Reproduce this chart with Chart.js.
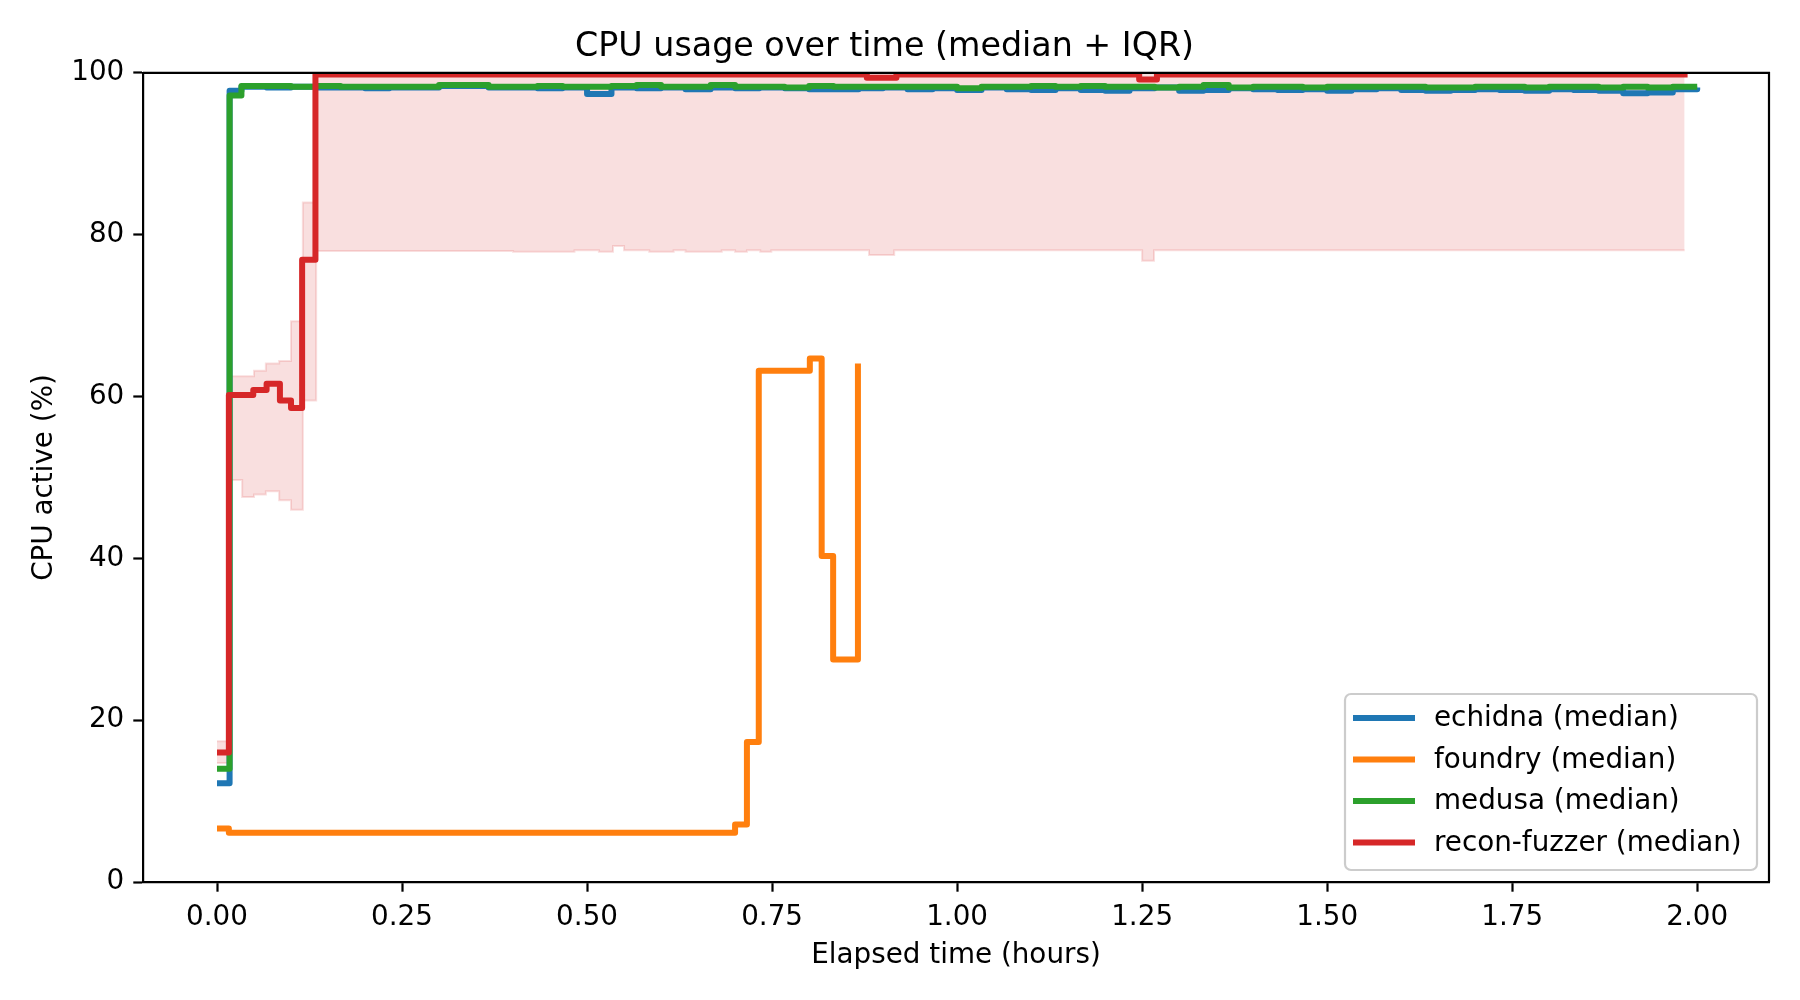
<!DOCTYPE html>
<html>
<head>
<meta charset="utf-8">
<title>CPU usage over time</title>
<script src="https://cdn.jsdelivr.net/npm/chart.js@4/dist/chart.umd.min.js"></script>
<style>
  body { margin: 0; background: #fff; }
  #wrap { width: 1800px; height: 1000px; }
</style>
</head>
<body>
<div id="wrap"><canvas id="cpuChart" width="1800" height="1000"></canvas></div>
<script>
// time grid (hours) shared by echidna and medusa medians
const gridTime = [0, 0.017, 0.033, 0.067, 0.1, 0.133, 0.167, 0.2, 0.233, 0.267, 0.3, 0.333, 0.367, 0.4, 0.433, 0.467,
  0.5, 0.533, 0.567, 0.6, 0.633, 0.667, 0.7, 0.733, 0.767, 0.8, 0.833, 0.867, 0.9, 0.933, 0.967,
  1.0, 1.033, 1.067, 1.1, 1.133, 1.167, 1.2, 1.233, 1.267, 1.3, 1.333, 1.367, 1.4, 1.433, 1.467,
  1.5, 1.533, 1.567, 1.6, 1.633, 1.667, 1.7, 1.733, 1.767, 1.8, 1.833, 1.867, 1.9, 1.933, 1.967, 2.0];

const echidnaMedian = [12.2, 97.8, 98.3, 98.2, 98.3, 98.2, 98.2, 98.1, 98.2, 98.2, 98.4, 98.4, 98.2, 98.2, 98.1, 98.2,
  97.4, 98.2, 98.1, 98.2, 98.0, 98.2, 98.1, 98.2, 98.1, 98.0, 98.0, 98.1, 98.2, 98.0, 98.1,
  97.9, 98.2, 98.0, 97.9, 98.1, 97.9, 97.8, 98.1, 98.2, 97.8, 97.9, 98.1, 98.0, 97.9, 98.0,
  97.8, 98.0, 98.1, 97.9, 97.8, 97.9, 98.0, 97.9, 97.8, 98.0, 97.9, 97.8, 97.5, 97.6, 98.0, 98.2];

const medusaMedian = [14.0, 97.2, 98.4, 98.4, 98.3, 98.4, 98.3, 98.3, 98.3, 98.3, 98.5, 98.5, 98.3, 98.3, 98.4, 98.3,
  98.3, 98.4, 98.5, 98.3, 98.3, 98.5, 98.3, 98.3, 98.2, 98.4, 98.3, 98.3, 98.3, 98.3, 98.3,
  98.1, 98.3, 98.3, 98.4, 98.3, 98.4, 98.3, 98.3, 98.2, 98.3, 98.5, 98.2, 98.3, 98.3, 98.2,
  98.3, 98.3, 98.3, 98.3, 98.2, 98.2, 98.3, 98.3, 98.2, 98.3, 98.3, 98.2, 98.3, 98.2, 98.3, 98.3];

const foundryTime = [0, 0.016, 0.70, 0.716, 0.732, 0.801, 0.817, 0.8325, 0.866];
const foundryMedian = [6.6, 6.1, 7.1, 17.3, 63.2, 64.7, 40.3, 27.5, 64.1];

const reconTime = [0, 0.016, 0.049, 0.067, 0.085, 0.1, 0.115, 0.133, 0.878, 0.918, 1.246, 1.27, 1.987];
const reconMedian = [16.0, 60.2, 60.8, 61.6, 59.5, 58.6, 76.9, 99.8, 99.4, 99.8, 99.2, 99.8, 99.8];

// recon-fuzzer interquartile range
const reconBandTime = [0, 0.016, 0.034, 0.05, 0.066, 0.084, 0.1, 0.116, 0.134, 0.40, 0.483, 0.516, 0.535, 0.55,
  0.584, 0.617, 0.633, 0.682, 0.70, 0.716, 0.734, 0.749, 0.881, 0.915, 1.25, 1.266, 1.983];
const reconQ1 = [14.7, 49.7, 47.6, 47.9, 48.3, 47.2, 46.0, 59.5, 78.0, 77.9, 78.1, 77.9, 78.6, 78.1,
  77.9, 78.1, 77.9, 78.1, 77.9, 78.1, 77.9, 78.1, 77.5, 78.1, 76.8, 78.1, 78.1];
const reconQ3 = [17.4, 62.5, 62.5, 63.2, 64.1, 64.4, 69.3, 84.0, 100, 100, 100, 100, 100, 100,
  100, 100, 100, 100, 100, 100, 100, 100, 100, 100, 100, 100, 100];

const xTicks = [0, 0.25, 0.5, 0.75, 1.0, 1.25, 1.5, 1.75, 2.0];
const yTicks = [0, 20, 40, 60, 80, 100];

const FONT = "'DejaVu Sans', sans-serif";
const FS = 27.8;

function pts(times, vals) {
    return times.map((t, i) => ({ x: t, y: vals[i] }));
}

function medianLine(label, times, vals, color, order) {
    return {
        label: label,
        data: pts(times, vals),
        borderColor: color,
        backgroundColor: color,
        borderWidth: 6,
        borderJoinStyle: 'round',
        stepped: true,
        pointRadius: 0,
        fill: false,
        order: order
    };
}

const bandColor = 'rgba(214, 39, 40, 0.15)';

// top and right spines, drawn over the data like matplotlib
const framePlugin = {
    id: 'frame',
    afterDatasetsDraw(chart) {
        const { ctx, chartArea: a } = chart;
        ctx.save();
        ctx.strokeStyle = '#000';
        ctx.lineWidth = 2.2;
        ctx.beginPath();
        ctx.moveTo(a.left, a.top);
        ctx.lineTo(a.right, a.top);
        ctx.lineTo(a.right, a.bottom);
        ctx.stroke();
        ctx.restore();
    }
};

// legend box in the lower right corner of the plot
const boxLegend = {
    id: 'boxLegend',
    afterDraw(chart) {
        const ctx = chart.ctx;
        const items = chart.data.datasets.filter(d => !d.isBand);
        const x0 = 1345, y0 = 694, w = 412, h = 176, r = 6;
        ctx.save();
        ctx.fillStyle = 'rgba(255,255,255,0.8)';
        ctx.strokeStyle = '#cccccc';
        ctx.lineWidth = 2.2;
        ctx.beginPath();
        ctx.roundRect(x0, y0, w, h, r);
        ctx.fill();
        ctx.stroke();
        ctx.font = FS + 'px ' + FONT;
        ctx.textBaseline = 'middle';
        ctx.textAlign = 'left';
        items.forEach((d, i) => {
            const y = 718 + i * 41.5;
            ctx.strokeStyle = d.borderColor;
            ctx.lineWidth = 6;
            ctx.beginPath();
            ctx.moveTo(1353, y);
            ctx.lineTo(1415, y);
            ctx.stroke();
            ctx.fillStyle = '#000';
            ctx.fillText(d.label, 1434, y + 1);
        });
        ctx.restore();
    }
};

const ctx = document.getElementById('cpuChart').getContext('2d');

new Chart(ctx, {
    type: 'line',
    data: {
        datasets: [
            medianLine('echidna (median)', gridTime, echidnaMedian, '#1f77b4', 3),
            medianLine('foundry (median)', foundryTime, foundryMedian, '#ff7f0e', 2),
            medianLine('medusa (median)', gridTime, medusaMedian, '#2ca02c', 1),
            medianLine('recon-fuzzer (median)', reconTime, reconMedian, '#d62728', 0),
            {
                label: 'recon-fuzzer Q3',
                isBand: true,
                data: pts(reconBandTime, reconQ3),
                borderColor: bandColor,
                backgroundColor: bandColor,
                borderWidth: 2,
                stepped: true,
                pointRadius: 0,
                fill: '+1',
                order: 5
            },
            {
                label: 'recon-fuzzer Q1',
                isBand: true,
                data: pts(reconBandTime, reconQ1),
                borderColor: bandColor,
                backgroundColor: bandColor,
                borderWidth: 2,
                stepped: true,
                pointRadius: 0,
                fill: false,
                order: 6
            }
        ]
    },
    options: {
        responsive: false,
        animation: false,
        devicePixelRatio: 1,
        layout: { padding: { top: 0, left: 0, right: 31, bottom: 0 } },
        plugins: {
            legend: { display: false },
            tooltip: { enabled: false },
            title: {
                display: true,
                text: 'CPU usage over time (median + IQR)',
                color: '#000',
                font: { family: FONT, size: 33.3, weight: 'normal', lineHeight: 1.2 },
                padding: { top: 27, bottom: 6 }
            }
        },
        scales: {
            x: {
                type: 'linear',
                min: -0.1,
                max: 2.097,
                afterBuildTicks: s => { s.ticks = xTicks.map(v => ({ value: v })); },
                afterFit: s => { s.height = 118; },
                grid: { drawOnChartArea: false, drawTicks: true, tickLength: 9.7, tickColor: '#000', tickWidth: 2.2 },
                border: { color: '#000', width: 2.2 },
                ticks: {
                    autoSkip: false,
                    maxRotation: 0,
                    padding: 9,
                    color: '#000',
                    font: { family: FONT, size: FS },
                    callback: v => Number(v).toFixed(2)
                },
                title: {
                    display: true,
                    text: 'Elapsed time (hours)',
                    color: '#000',
                    font: { family: FONT, size: FS },
                    padding: { top: 0, bottom: 28 }
                }
            },
            y: {
                type: 'linear',
                min: 0,
                max: 100,
                afterBuildTicks: s => { s.ticks = yTicks.map(v => ({ value: v })); },
                afterFit: s => { s.width = 143; },
                grid: { drawOnChartArea: false, drawTicks: true, tickLength: 9.7, tickColor: '#000', tickWidth: 2.2 },
                border: { color: '#000', width: 2.2 },
                ticks: {
                    padding: 9,
                    color: '#000',
                    font: { family: FONT, size: FS }
                },
                title: {
                    display: true,
                    text: 'CPU active (%)',
                    color: '#000',
                    font: { family: FONT, size: FS },
                    padding: { top: 28, bottom: 28 }
                }
            }
        }
    },
    plugins: [framePlugin, boxLegend]
});
</script>
</body>
</html>
